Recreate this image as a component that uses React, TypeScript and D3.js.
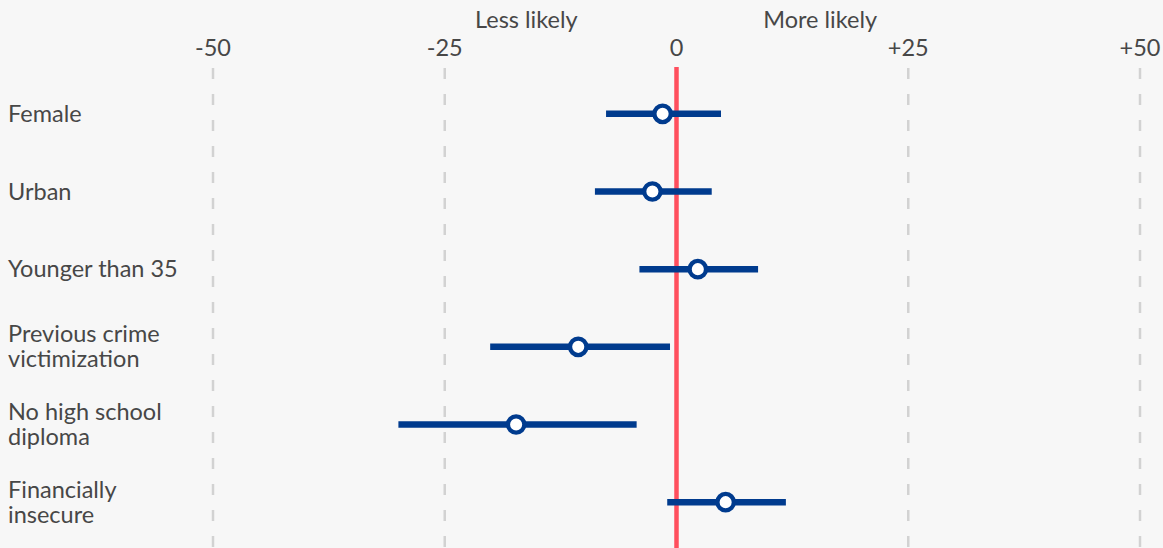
import React, { useEffect } from "react";
import * as d3 from "d3";

const categories: string[][] = [
  ["Female"],
  ["Urban"],
  ["Younger than 35"],
  ["Previous crime", "victimization"],
  ["No high school", "diploma"],
  ["Financially", "insecure"],
];
const estimates = [-1.5, -2.6, 2.3, -10.6, -17.3, 5.3];
const lows = [-7.6, -8.8, -4.0, -20.1, -30.0, -1.0];
const highs = [4.8, 3.8, 8.8, -0.7, -4.3, 11.8];
const tickValues = [-50, -25, 0, 25, 50];
const tickLabels = ["-50", "-25", "0", "+25", "+50"];
const headers = ["Less likely", "More likely"];
const headerValues = [-16.2, 15.5];

const W = 1163;
const H = 548;

export default function App() {
  useEffect(() => {
    document.body.style.margin = "0";
    document.body.style.background = "#f7f7f7";
  }, []);

  const x = d3.scaleLinear().domain([-50, 50]).range([213, 1140]);
  const y = d3
    .scaleBand<number>()
    .domain(categories.map((_, i) => i))
    .range([75, 541])
    .paddingInner(0)
    .paddingOuter(0);
  const cy = (i: number) => (y(i) as number) + y.bandwidth() / 2;
  const font = "Lato, 'Open Sans', sans-serif";
  const textColor = "#474747";

  return (
    <svg width={W} height={H} style={{ display: "block", background: "#f7f7f7" }} fontFamily={font}>
      <rect x={0} y={0} width={W} height={H} fill="#f7f7f7" />
      {headers.map((h, i) => (
        <text key={h} x={x(headerValues[i])} y={28} textAnchor="middle" fontSize={23.5} fill={textColor}>
          {h}
        </text>
      ))}
      {tickValues.map((t, i) => (
        <g key={t}>
          <text x={x(t)} y={56} textAnchor="middle" fontSize={23.5} fill={textColor}>
            {tickLabels[i]}
          </text>
          {t !== 0 && (
            <line
              x1={x(t)}
              x2={x(t)}
              y1={68}
              y2={H}
              stroke="#d2d2d2"
              strokeWidth={2.5}
              strokeDasharray="11 15"
            />
          )}
        </g>
      ))}
      <line x1={x(0)} x2={x(0)} y1={67} y2={H} stroke="#ff4f5e" strokeWidth={4.5} />
      {categories.map((lines, i) => {
        const c = cy(i);
        const lh = 25;
        const y0 = c - ((lines.length - 1) * lh) / 2 + 8;
        return (
          <g key={i}>
            {lines.map((l, j) => (
              <text key={j} x={8} y={y0 + j * lh} fontSize={23.5} fill={textColor}>
                {l}
              </text>
            ))}
            <line x1={x(lows[i])} x2={x(highs[i])} y1={c} y2={c} stroke="#003b8e" strokeWidth={6.5} />
            <circle cx={x(estimates[i])} cy={c} r={8.2} fill="#ffffff" stroke="#003b8e" strokeWidth={4.3} />
          </g>
        );
      })}
    </svg>
  );
}
